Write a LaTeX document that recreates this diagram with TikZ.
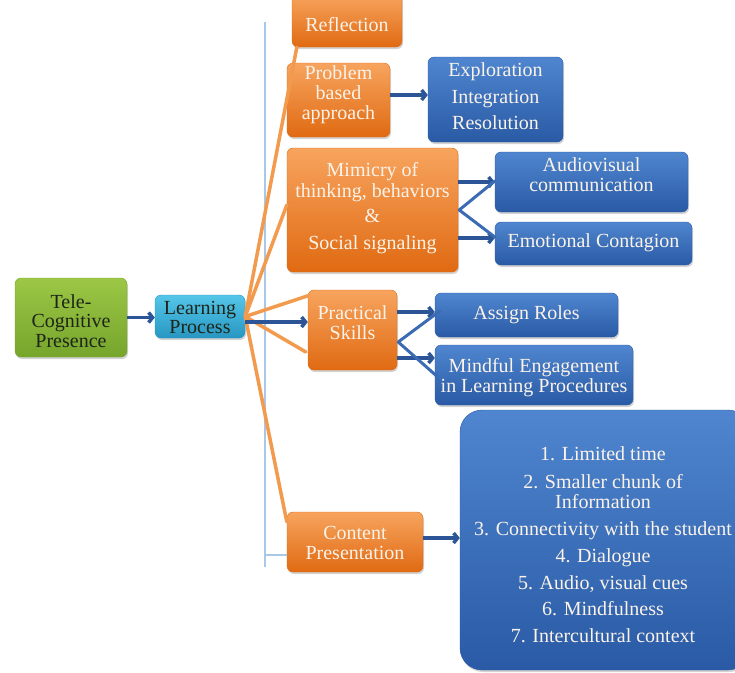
\documentclass[tikz,border=0pt]{standalone}
\usepackage{fontspec}
\setmainfont{Liberation Serif}
\usetikzlibrary{arrows.meta,shadows,calc}
\definecolor{orTop}{HTML}{F7A45E}
\definecolor{orBot}{HTML}{E06A12}
\definecolor{blTop}{HTML}{4F86CF}
\definecolor{blBot}{HTML}{2A5AA5}
\definecolor{grTop}{HTML}{9CC746}
\definecolor{grBot}{HTML}{76A52C}
\definecolor{cyTop}{HTML}{55C6E8}
\definecolor{cyBot}{HTML}{2797C2}
\definecolor{fanCol}{HTML}{F29A4E}
\definecolor{conCol}{HTML}{3B6BB3}
\definecolor{arrCol}{HTML}{2C5597}
\definecolor{guideCol}{HTML}{A9C8E8}
\definecolor{lightTxt}{HTML}{FBF3EA}
\definecolor{darkTxt}{HTML}{1E2418}
\begin{document}
\begin{tikzpicture}[x=1pt,y=-1pt,
  box/.style={rounded corners=6pt, inner sep=0pt, line width=0.4pt,
    drop shadow={shadow xshift=1pt, shadow yshift=-2pt, opacity=0.35}},
  obox/.style={box, top color=orTop, bottom color=orBot, draw=orBot},
  bbox/.style={box, top color=blTop, bottom color=blBot, draw=blBot},
  gbox/.style={box, top color=grTop, bottom color=grBot, draw=grBot},
  cbox/.style={box, top color=cyTop, bottom color=cyBot, draw=cyBot},
  ltext/.style={text=lightTxt, align=center, inner sep=0pt},
  dtext/.style={text=darkTxt, align=center, inner sep=0pt},
  fan/.style={draw=fanCol, line width=3.5pt, line cap=round},
  vcon/.style={draw=conCol, line width=3pt, line cap=round},
  arr/.style={draw=arrCol, line width=3.5pt, -{Straight Barb[length=4pt,width=10pt]}},
  guide/.style={draw=guideCol, line width=1.2pt}
]
\useasboundingbox (0,0) rectangle (735,672);

% guide line
\coordinate (vtop) at (265,22);
\coordinate (vbot) at (265,567);
\draw[guide] (vtop) -- (vbot);

% boxes
\node[gbox, minimum width=112pt, minimum height=79pt] (tcp) at (71,317.5) {};
\node[cbox, minimum width=90pt, minimum height=43pt] (lp) at (200,316.5) {};
\node[obox, minimum width=110pt, minimum height=53pt] (refl) at (347,20.5) {};
\node[obox, minimum width=103pt, minimum height=74pt] (pba) at (338.5,100) {};
\node[bbox, minimum width=135pt, minimum height=85pt] (expl) at (495.5,99.5) {};
\node[obox, minimum width=171pt, minimum height=124pt] (mim) at (372.5,210) {};
\node[bbox, minimum width=193pt, minimum height=60pt] (audio) at (591.5,182) {};
\node[bbox, minimum width=197pt, minimum height=43pt] (emo) at (593.5,243.5) {};
\node[obox, minimum width=89pt, minimum height=80pt] (prac) at (352.5,330) {};
\node[bbox, minimum width=183pt, minimum height=44pt] (assign) at (526.5,315) {};
\node[bbox, minimum width=198pt, minimum height=60pt] (mind) at (534,375) {};
\node[obox, minimum width=136pt, minimum height=60pt] (content) at (355,542) {};
\node[bbox, rounded corners=22pt, minimum width=290pt, minimum height=260pt] (big) at (605,540) {};

% texts
\node[dtext, font=\fontsize{20}{19.5}\selectfont] (tcpt) at (71,321) {Tele-\\Cognitive\\Presence};
\node[dtext, font=\fontsize{20}{19.5}\selectfont] (lpt) at (200,317.5) {Learning\\Process};
\node[ltext, font=\fontsize{20}{20}\selectfont] (reflt) at (347,25) {Reflection};
\node[ltext, font=\fontsize{20}{20}\selectfont] (pbat) at (338.5,95) {Problem\\based\\approach};
\node[ltext, font=\fontsize{20}{26.5}\selectfont] (explt) at (495.5,96.5) {Exploration\\Integration\\Resolution};
\node[ltext, font=\fontsize{20}{21}\selectfont] (mimt) at (372.5,208.5) {Mimicry of\\thinking, behaviors\\[4pt]\&\\[6pt]Social signaling};
\node[ltext, font=\fontsize{20}{20}\selectfont] (audiot) at (591.5,175) {Audiovisual\\communication};
\node[ltext, font=\fontsize{20}{20}\selectfont] (emot) at (593.5,243) {Emotional Contagion};
\node[ltext, font=\fontsize{20}{19.5}\selectfont] (pract) at (352.5,322.5) {Practical\\Skills};
\node[ltext, font=\fontsize{20}{20}\selectfont] (assignt) at (526.5,315) {Assign Roles};
\node[ltext, font=\fontsize{20}{20}\selectfont] (mindt) at (534,377.5) {Mindful Engagement\\in Learning Procedures};
\node[ltext, font=\fontsize{20}{20}\selectfont] (contentt) at (355,543) {Content\\Presentation};
\node[ltext, font=\fontsize{20}{20}\selectfont] (bigt) at (603,545) {1. Limited time\\[8pt]
2. Smaller chunk of\\Information\\[7pt]
3. Connectivity with the student\\[7pt]
4. Dialogue\\[7pt]
5. Audio, visual cues\\[6pt]
6. Mindfulness\\[7pt]
7. Intercultural context};

% guide to content
\draw[guide] (vtop |- 0,555) -- (content.west |- 0,555);

% orange fan
\draw[fan] (lp.east) -- ($(refl.south west)+(5,0)$);
\draw[fan] (lp.east) -- ($(mim.west)+(0,-5)$);
\draw[fan] (lp.east) -- ($(prac.north west)+(0,6)$);
\draw[fan] (lp.east) -- ($(prac.west)+(-2,22)$);
\draw[fan] (lp.east) -- ($(content.north west)+(0,10)$);

% arrows
\draw[arr] (tcp.east) -- (lp.west |- tcp.east);
\draw[arr] (lp.east |- 0,322) -- (prac.west |- 0,322);
\draw[arr] (pba.east |- 0,95) -- (expl.west |- 0,95);
\draw[arr] (mim.east |- 0,182) -- (audio.west |- 0,182);
\draw[arr] (mim.east |- 0,238) -- (emo.west |- 0,238);
\draw[arr] (prac.east |- 0,312) -- (assign.west |- 0,312);
\draw[arr] (prac.east |- 0,358) -- (mind.west |- 0,358);
\draw[arr] (content.east |- 0,538) -- (big.west |- 0,538);

% V connectors
\coordinate (mimv) at ($(mim.east)+(1,0)$);
\draw[vcon] (mimv) -- (audio.west |- 0,181);
\draw[vcon] (mimv) -- (emo.west |- 0,237);
\coordinate (pracv) at ($(prac.east)+(1,12)$);
\draw[vcon] (pracv) -- ($(assign.west)+(5,-4)$);
\draw[vcon] (pracv) -- ($(mind.west)+(3,2)$);
\end{tikzpicture}
\end{document}
